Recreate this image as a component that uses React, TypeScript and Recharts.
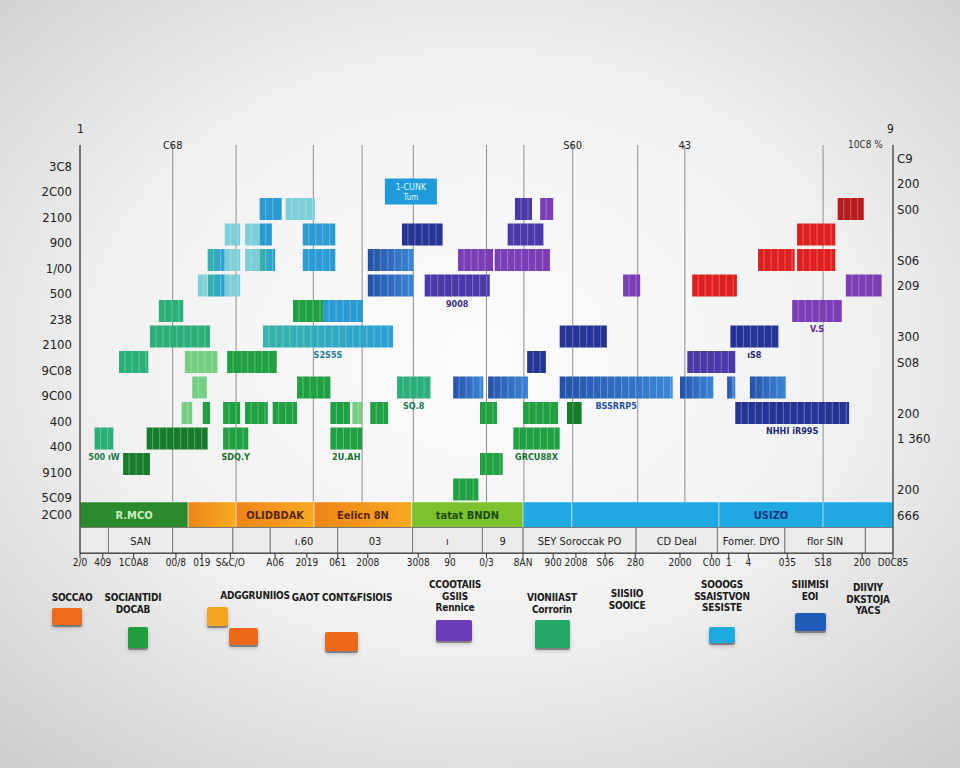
import React from "react";
import { BarChart, Bar, XAxis, YAxis, CartesianGrid } from "recharts";

// rows top to bottom: header, 13 plot rows, coloured band, label strip
const rowIds = ["hd", "r1", "r2", "r3", "r4", "r5", "r6", "r7", "r8", "r9", "r10", "r11", "r12", "r13", "band", "strip"];
const leftLabels = ["3C8", "2C00", "2100", "900", "1/00", "500", "238", "2100", "9C08", "9C00", "400", "400", "9100", "5C09", "2C00", ""];
const rightLabels = ["C9", "200", "S00", "", "S06", "209", "", "300", "S08", "", "200", "1 360", "", "200", "666", ""];

const topTicks = [11.4, 19.2, 28.7, 34.7, 41.0, 50.0, 54.6, 60.6, 68.6, 74.4, 91.4];
const topTickLabels = ["C68", "", "", "", "", "", "", "S60", "", "43", ""];

const bottomTicks = [0, 2.8, 6.6, 11.8, 15.0, 18.5, 24.0, 27.9, 31.7, 35.4, 41.6, 45.5, 50.0, 54.5, 58.2, 61.0, 64.6, 68.3, 73.8, 77.7, 79.8, 82.2, 87.0, 91.4, 96.2, 100];
const bottomTickLabels = ["2/0", "409", "1C0A8", "00/8", "019", "S&C/O", "A06", "2019", "061", "2008", "3008", "90", "0/3", "8AN", "900", "2008", "S06", "280", "2000", "C00", "1", "4", "035", "S18", "200", "D0C85"];

// spans: [row, start, end, label]
type Span = [number, number, number, string?];

const noteSpans: Span[] = [[1, 37.5, 43.9, "1-CUNK|Tum"]];
const skySpans: Span[] = [[2, 22.1, 24.8], [3, 22.1, 23.6], [3, 27.4, 31.4], [4, 27.4, 31.4], [6, 29.9, 34.8]];
const tealSpans: Span[] = [[4, 15.7, 17.8], [5, 15.7, 17.8], [4, 22.1, 24.0], [7, 22.5, 38.5, "S2S5S"]];
const aquaSpans: Span[] = [[2, 25.3, 28.9], [3, 17.8, 19.7], [4, 17.8, 19.7], [5, 17.8, 19.7], [5, 14.5, 15.6], [3, 20.3, 22.1], [4, 20.3, 22.1]];
const seaGreenSpans: Span[] = [[6, 9.7, 12.7], [7, 8.6, 16.0], [8, 4.8, 8.4], [9, 39.0, 43.1, "SQ.8"], [11, 1.8, 4.1, "500 ıW"]];
const lightGreenSpans: Span[] = [[8, 12.9, 16.9], [9, 13.8, 15.6], [10, 12.5, 13.8], [10, 33.5, 34.7]];
const greenSpans: Span[] = [
  [6, 26.2, 29.9], [8, 18.1, 19.9], [8, 19.9, 24.2], [9, 26.7, 30.8],
  [10, 15.1, 16.0], [10, 17.6, 19.7], [10, 20.3, 23.1], [10, 23.7, 26.7], [10, 30.8, 33.2], [10, 35.7, 37.9], [10, 49.2, 51.3], [10, 54.5, 58.8],
  [11, 17.6, 20.7, "SDQ.Y"], [11, 30.8, 34.7, "2U.AH"], [11, 53.3, 59.0, "GRCU88X"], [12, 49.2, 52.0], [13, 45.9, 49.0],
];
const darkGreenSpans: Span[] = [[11, 8.2, 15.7], [12, 5.3, 8.6], [10, 59.9, 61.7]];
const blueSpans: Span[] = [[4, 35.4, 41.0], [5, 35.4, 41.0], [9, 45.9, 49.6], [9, 50.2, 55.1], [9, 59.0, 72.9, "BSSRRP5"], [9, 73.8, 77.9], [9, 79.6, 80.6], [9, 82.4, 86.8]];
const navySpans: Span[] = [[3, 39.6, 44.6], [7, 59.0, 64.8], [7, 80.0, 85.9, "ıS8"], [8, 55.0, 57.3], [10, 80.6, 94.6, "NHHI  iR99S"]];
const indigoSpans: Span[] = [[2, 53.5, 55.6], [3, 52.6, 57.0], [5, 42.4, 50.4, "9008"], [8, 74.7, 80.6]];
const purpleSpans: Span[] = [[2, 56.6, 58.2], [4, 46.5, 50.8], [4, 51.0, 57.8], [5, 66.8, 68.9], [5, 94.2, 98.6], [6, 87.6, 93.7, "V.S"]];
const redSpans: Span[] = [[3, 88.2, 92.9], [4, 83.4, 87.9], [4, 88.2, 92.9], [5, 75.3, 80.8]];
const darkRedSpans: Span[] = [[2, 93.2, 96.4]];

const bandGreenSpans: Span[] = [[14, 0, 13.3, "R.MCO"]];
const bandOrangeSpans: Span[] = [[14, 13.3, 19.2], [14, 19.2, 28.8, "OLIDBDAK"], [14, 28.8, 40.8, "Eelicn 8N"]];
const bandLimeSpans: Span[] = [[14, 40.8, 54.5, "tatat BNDN"]];
const bandBlueSpans: Span[] = [[14, 54.5, 60.5], [14, 60.5, 78.6], [14, 78.6, 91.4, "USIZO"], [14, 91.4, 100]];
const stripSpans: Span[] = [
  [15, 0, 3.5], [15, 3.5, 11.4, "SAN"], [15, 11.4, 18.8], [15, 18.8, 23.4], [15, 23.4, 31.7, "ı.60"], [15, 31.7, 40.9, "03"],
  [15, 40.9, 49.5, "ı"], [15, 49.5, 54.5, "9"], [15, 54.5, 68.4, "SEY  Soroccak   PO"], [15, 68.4, 78.4, "CD   Deal"],
  [15, 78.4, 86.7, "Fomer. DYO"], [15, 86.7, 96.6, "fIor      SIN"], [15, 96.6, 100],
];

const legendNames = [
  ["SOCCAO"], ["SOCIANTIDI", "DOCAB"], ["ADGGRUNIIOS"], ["GAOT CONT&FISIOIS"], ["CCOOTAIIS", "GSIIS", "Rennice"],
  ["VIONIIAST", "Corrorin"], ["SIISIIO", "SOOICE"], ["SOOOGS", "SSAISTVON", "SESISTE"], ["SIIIMISI", "EOI"], ["DIIVIY", "DKSTOJA", "YACS"],
];
const legendColors = [["#ee6b1c"], ["#1f9e3c"], ["#f5a51f", "#ee6a1a"], ["#ee6a1a"], ["#6b3cb8"], ["#23a866"], [], ["#1fa9e1"], ["#1f5db9"], []];

// layout of the legend (text centre / top, swatch boxes)
const legendLayout: { cx: number; top: number; boxes: number[][] }[] = [
  { cx: 72, top: 594, boxes: [[52, 608, 30, 17]] },
  { cx: 133, top: 594, boxes: [[128, 627, 20, 21]] },
  { cx: 255, top: 592, boxes: [[207, 607, 21, 19], [229, 628, 29, 17]] },
  { cx: 342, top: 594, boxes: [[325, 632, 33, 19]] },
  { cx: 455, top: 581, boxes: [[436, 620, 36, 21]] },
  { cx: 552, top: 594, boxes: [[535, 620, 35, 28]] },
  { cx: 627, top: 590, boxes: [] },
  { cx: 722, top: 581, boxes: [[709, 627, 26, 16]] },
  { cx: 810, top: 581, boxes: [[795, 613, 31, 18]] },
  { cx: 868, top: 584, boxes: [] },
];

const seriesStyle: Record<string, { fill: string; text: string; kind: string }> = {
  note: { fill: "#1e9bd8", text: "#dff3ff", kind: "note" },
  sky: { fill: "#2a9ad2", text: "#1b6e9c", kind: "block" },
  teal: { fill: "url(#gTeal)", text: "#1f7f8f", kind: "block" },
  aqua: { fill: "#7ccfd8", text: "#2b8f99", kind: "block" },
  seaGreen: { fill: "#2aae7a", text: "#1b7a52", kind: "block" },
  lightGreen: { fill: "#74cf82", text: "#2e8c3c", kind: "block" },
  green: { fill: "#20a043", text: "#16712e", kind: "block" },
  darkGreen: { fill: "#167d2c", text: "#125f22", kind: "block" },
  blue: { fill: "url(#gBlue)", text: "#2452a4", kind: "block" },
  navy: { fill: "#253494", text: "#1d2a78", kind: "block" },
  indigo: { fill: "#4a39a8", text: "#3a2c88", kind: "block" },
  purple: { fill: "#7b3cb6", text: "#5e2a8c", kind: "block" },
  red: { fill: "#df1f1f", text: "#a81616", kind: "block" },
  darkRed: { fill: "#b81a1a", text: "#8a1212", kind: "block" },
  bandGreen: { fill: "#2a8a2c", text: "#c9efc0", kind: "band" },
  bandOrange: { fill: "url(#gOrange)", text: "#5a2600", kind: "band" },
  bandLime: { fill: "#7cc22c", text: "#1d4a0e", kind: "band" },
  bandBlue: { fill: "#1fa8e2", text: "#12357a", kind: "band" },
  strip: { fill: "#ececec", text: "#222222", kind: "strip" },
};

const seriesSpans: [string, Span[]][] = [
  ["note", noteSpans], ["sky", skySpans], ["teal", tealSpans], ["aqua", aquaSpans], ["seaGreen", seaGreenSpans],
  ["lightGreen", lightGreenSpans], ["green", greenSpans], ["darkGreen", darkGreenSpans], ["blue", blueSpans],
  ["navy", navySpans], ["indigo", indigoSpans], ["purple", purpleSpans], ["red", redSpans], ["darkRed", darkRedSpans],
  ["bandGreen", bandGreenSpans], ["bandOrange", bandOrangeSpans], ["bandLime", bandLimeSpans], ["bandBlue", bandBlueSpans],
  ["strip", stripSpans],
];

const PLOT_TOP = 145;
const PLOT_BOTTOM = 553;
const PLOT_LEFT = 80;
const PLOT_RIGHT = 893;
const AXIS_W = 60;
const TOP_H = 20;
const BOTTOM_H = 30;
const ROW_H = (PLOT_BOTTOM - PLOT_TOP) / rowIds.length;
const ROW_GAP = 2;
const FONT = "'Liberation Sans Narrow', 'DejaVu Sans Condensed', sans-serif";

// build stacked gantt rows: transparent gap + coloured segment pairs
const rowSegs = rowIds.map((_, i) =>
  seriesSpans
    .flatMap(([name, spans]) => spans.filter((s) => s[0] === i).map((s) => ({ name, start: s[1], end: s[2], label: s[3] })))
    .sort((a, b) => a.start - b.start)
);
const MAX_SEGS = Math.max(...rowSegs.map((s) => s.length));

const rows = rowIds.map((id, i) => {
  const row: any = { id, meta: [] };
  for (let k = 0; k < MAX_SEGS; k++) {
    row[`g${k}`] = 0;
    row[`s${k}`] = 0;
  }
  let cursor = 0;
  rowSegs[i].forEach((seg, k) => {
    const st = Math.max(seg.start, cursor);
    row[`g${k}`] = st - cursor;
    row[`s${k}`] = Math.max(0, seg.end - st);
    row.meta[k] = seg;
    cursor = Math.max(cursor, seg.end);
  });
  return row;
});

const emptyShape = () => <g />;

const renderSeg = (k: number) => (props: any) => {
  const { x, y, width, height, payload } = props;
  const seg = payload?.meta?.[k];
  if (!seg || !(width > 0.3)) return <g />;
  const st = seriesStyle[seg.name];
  if (st.kind === "band" || st.kind === "strip") {
    const y0 = y - ROW_GAP;
    const h = height + ROW_GAP * 2;
    return (
      <g>
        <rect x={x} y={y0} width={width} height={h} fill={st.fill}
          stroke={st.kind === "band" ? "rgba(255,255,255,0.45)" : "#7a7a7a"} strokeWidth={1} />
        {seg.label ? (
          <text x={x + width / 2} y={y0 + h / 2 + 4} textAnchor="middle" fontSize={11}
            fontWeight={st.kind === "band" ? 700 : 400} fill={st.text} fontFamily={FONT}>
            {seg.label}
          </text>
        ) : null}
      </g>
    );
  }
  if (st.kind === "note") {
    const [l1, l2] = (seg.label || "").split("|");
    return (
      <g>
        <rect x={x} y={y + 6} width={width} height={height + 4} fill={st.fill} />
        <text x={x + width / 2} y={y + 17} textAnchor="middle" fontSize={9} fill={st.text} fontFamily={FONT}>{l1}</text>
        <text x={x + width / 2} y={y + 27} textAnchor="middle" fontSize={8} fill={st.text} fontFamily={FONT}>{l2}</text>
      </g>
    );
  }
  const stripes = [];
  for (let sx = x + 6; sx < x + width - 2; sx += 7) {
    stripes.push(<line key={sx} x1={sx} x2={sx} y1={y} y2={y + height} stroke="rgba(255,255,255,0.3)" strokeWidth={1} />);
  }
  return (
    <g>
      <rect x={x} y={y} width={width} height={height} fill={st.fill} />
      {stripes}
      {seg.label ? (
        <text x={x + width / 2} y={y + height + 10} textAnchor="middle" fontSize={9} fontWeight={700} fill={st.text} fontFamily={FONT}>
          {seg.label}
        </text>
      ) : null}
    </g>
  );
};

const LeftTick = (props: any) => {
  const { x, y, payload } = props;
  const i = rowIds.indexOf(payload.value);
  const ty = rowIds[i] === "band" ? y + 4 : y + ROW_H / 2;
  return (
    <text x={x} y={ty} textAnchor="end" fontSize={13} fill="#222" fontFamily={FONT}>
      {leftLabels[i]}
    </text>
  );
};

const RightTick = (props: any) => {
  const { x, y, payload } = props;
  const i = rowIds.indexOf(payload.value);
  return (
    <text x={x} y={y + 5} textAnchor="start" fontSize={13} fill="#222" fontFamily={FONT}>
      {rightLabels[i]}
    </text>
  );
};

const TopTick = (props: any) => {
  const { x, y, payload } = props;
  const i = topTicks.indexOf(payload.value);
  return (
    <text x={x} y={y + 4} textAnchor="middle" fontSize={11} fill="#222" fontFamily={FONT}>
      {topTickLabels[i]}
    </text>
  );
};

const BottomTick = (props: any) => {
  const { x, y, payload } = props;
  const i = bottomTicks.indexOf(payload.value);
  return (
    <text x={x} y={y + 6} textAnchor="middle" fontSize={10} fill="#222" fontFamily={FONT}>
      {bottomTickLabels[i]}
    </text>
  );
};

const rowEdges = ({ yAxis }: any) => {
  const sc = yAxis?.scale;
  if (typeof sc !== "function") return [];
  return rowIds.slice(1).map((r) => sc(r));
};

export default function App() {
  const bars = [];
  for (let k = 0; k < MAX_SEGS; k++) {
    bars.push(
      <Bar key={`g${k}`} dataKey={`g${k}`} stackId="a" fill="transparent" shape={emptyShape} isAnimationActive={false} />
    );
    bars.push(
      <Bar key={`s${k}`} dataKey={`s${k}`} stackId="a" fill="#888" shape={renderSeg(k)} isAnimationActive={false} />
    );
  }

  return (
    <div
      style={{
        position: "absolute",
        left: 0,
        top: 0,
        width: 960,
        height: 768,
        overflow: "hidden",
        background: "radial-gradient(ellipse 75% 72% at 50% 46%, #fbfbfb 0%, #f2f2f2 50%, #cdcdcd 100%)",
        fontFamily: FONT,
      }}
    >
      <BarChart
        width={960}
        height={768}
        data={rows}
        layout="vertical"
        barCategoryGap={ROW_GAP}
        margin={{ top: PLOT_TOP - TOP_H, left: PLOT_LEFT - AXIS_W, right: 960 - PLOT_RIGHT - AXIS_W, bottom: 768 - PLOT_BOTTOM - BOTTOM_H }}
      >
        <defs>
          <linearGradient id="gTeal" x1="0" y1="0" x2="1" y2="0">
            <stop offset="0%" stopColor="#35b3a8" />
            <stop offset="100%" stopColor="#2a9fd6" />
          </linearGradient>
          <linearGradient id="gBlue" x1="0" y1="0" x2="1" y2="0">
            <stop offset="0%" stopColor="#2352a8" />
            <stop offset="100%" stopColor="#3b86d6" />
          </linearGradient>
          <linearGradient id="gOrange" x1="0" y1="0" x2="1" y2="0">
            <stop offset="0%" stopColor="#ef8418" />
            <stop offset="100%" stopColor="#f6aa20" />
          </linearGradient>
        </defs>
        <CartesianGrid xAxisId="top" stroke="#8e8e8e" horizontalCoordinatesGenerator={rowEdges} />
        <XAxis
          xAxisId="top"
          orientation="top"
          type="number"
          domain={[0, 100]}
          allowDataOverflow
          ticks={topTicks}
          interval={0}
          height={TOP_H}
          axisLine={false}
          tickLine={false}
          tickSize={0}
          tickMargin={0}
          tick={<TopTick />}
        />
        <XAxis
          type="number"
          domain={[0, 100]}
          allowDataOverflow
          ticks={bottomTicks}
          interval={0}
          height={BOTTOM_H}
          axisLine={{ stroke: "#333" }}
          tickLine={{ stroke: "#333" }}
          tickSize={5}
          tick={<BottomTick />}
        />
        <YAxis
          type="category"
          dataKey="id"
          width={AXIS_W}
          axisLine={{ stroke: "#333" }}
          tickLine={false}
          interval={0}
          tick={<LeftTick />}
        />
        <YAxis
          yAxisId="right"
          orientation="right"
          type="category"
          dataKey="id"
          width={AXIS_W}
          axisLine={{ stroke: "#333" }}
          tickLine={false}
          tickSize={2}
          tickMargin={2}
          interval={0}
          tick={<RightTick />}
        />
        {bars}
      </BarChart>

      <div style={{ position: "absolute", left: 77, top: 122, fontSize: 12, color: "#222" }}>1</div>
      <div style={{ position: "absolute", left: 887, top: 122, fontSize: 12, color: "#222" }}>9</div>
      <div style={{ position: "absolute", left: 848, top: 139, fontSize: 10, color: "#333" }}>10C8 %</div>

      {legendNames.map((lines, i) => {
        const lay = legendLayout[i];
        return (
          <React.Fragment key={i}>
            <div
              style={{
                position: "absolute",
                left: lay.cx - 65,
                width: 130,
                top: lay.top - 2,
                textAlign: "center",
                whiteSpace: "nowrap",
                fontSize: 10,
                lineHeight: "11.5px",
                letterSpacing: -0.2,
                fontWeight: 700,
                color: "#1a1a1a",
              }}
            >
              {lines.map((t, j) => (
                <div key={j}>{t}</div>
              ))}
            </div>
            {lay.boxes.map((b, j) => (
              <div
                key={`b${j}`}
                style={{
                  position: "absolute",
                  left: b[0],
                  top: b[1],
                  width: b[2],
                  height: b[3],
                  background: legendColors[i][j],
                  borderRadius: 2,
                  boxShadow: "0 2px 0 rgba(0,0,0,0.35), 0 3px 4px rgba(0,0,0,0.2)",
                }}
              />
            ))}
          </React.Fragment>
        );
      })}
    </div>
  );
}
